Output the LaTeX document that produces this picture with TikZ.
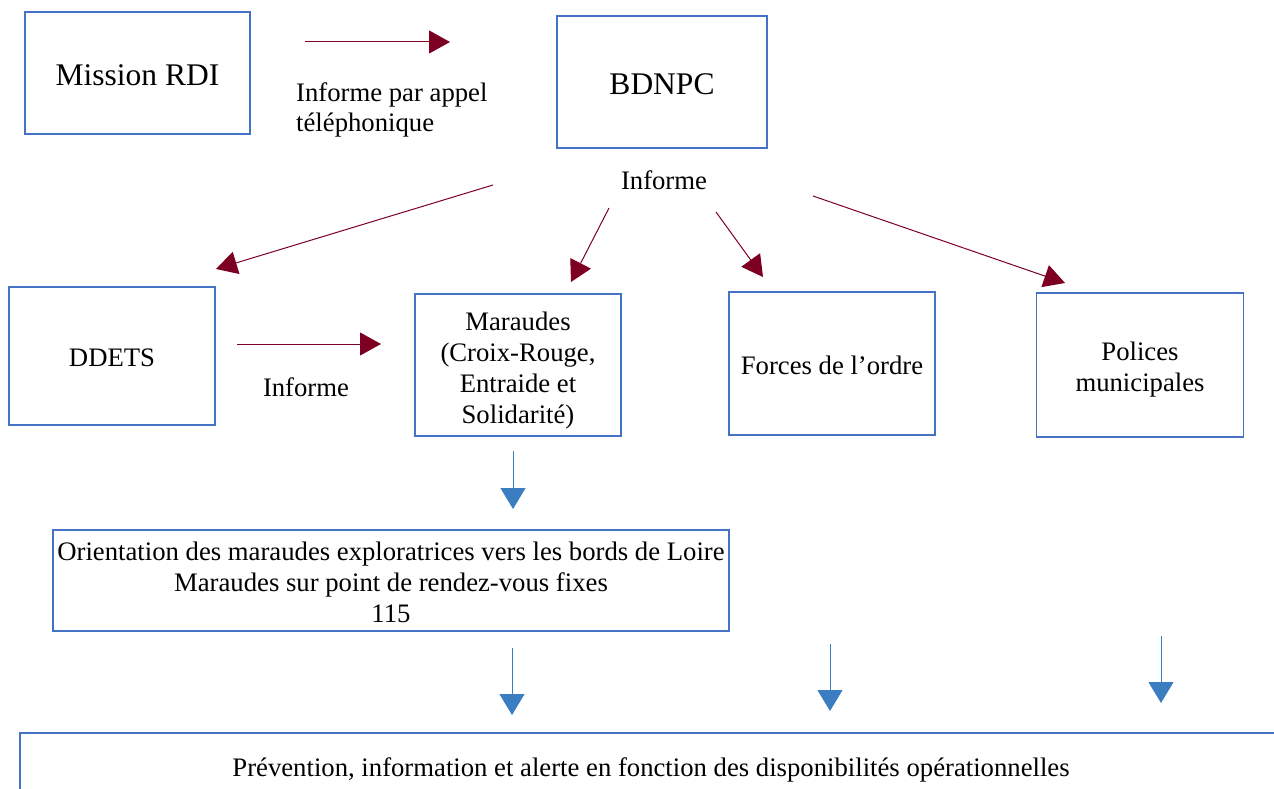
\documentclass[tikz,border=0pt]{standalone}
\usepackage{fontspec}
\setmainfont{Liberation Serif}
\usetikzlibrary{arrows.meta}
\definecolor{boxblue}{HTML}{4472C4}
\definecolor{darkred}{HTML}{7D0023}
\definecolor{arrblue}{HTML}{3A7DC0}
\tikzset{
  box/.style={draw=boxblue, line width=1.1pt, inner sep=0pt},
  txt/.style={inner sep=0pt, align=center, font=\fontsize{26.7}{31}\selectfont},
  bigtxt/.style={inner sep=0pt, align=center, font=\fontsize{31.5}{36}\selectfont},
  lbl/.style={inner sep=0pt, align=left, font=\fontsize{26.7}{30}\selectfont},
  redarr/.style={draw=darkred, line width=1pt, -{Triangle[length=21pt,width=23pt]}},
  bluearr/.style={draw=arrblue, line width=1pt, -{Triangle[length=21pt,width=25pt]}}
}
\begin{document}
\begin{tikzpicture}[x=1pt,y=-1pt]
\useasboundingbox (0,0) rectangle (1274,789);
% boxes
\node[box, minimum width=225pt, minimum height=122pt] (rdi) at (137.5,73) {};
\node[bigtxt] (rdit) at (137.5,75) {Mission RDI};
\node[box, minimum width=210pt, minimum height=132pt] (bdnpc) at (662,82) {};
\node[bigtxt] (bdnpct) at (662,84) {BDNPC};
\node[box, minimum width=206pt, minimum height=138pt] (ddets) at (112,356) {};
\node[txt] (ddetst) at (112,358) {DDETS};
\node[box, minimum width=206pt, minimum height=142pt] (mar) at (518,365) {};
\node[txt] (mart) at (518,371) {Maraudes\\(Croix-Rouge,\\Entraide et\\Solidarité)};
\node[box, minimum width=206pt, minimum height=143pt] (forces) at (832,363.5) {};
\node[txt] (forcest) at (832,365) {Forces de l’ordre};
\node[box, minimum width=207pt, minimum height=144pt] (pol) at (1140,365) {};
\node[txt] (polt) at (1140,370) {Polices\\municipales};
\node[box, minimum width=676pt, minimum height=101pt] (orient) at (391,580.5) {};
\node[txt] (orientt) at (391,582.5) {Orientation des maraudes exploratrices vers les bords de Loire\\Maraudes sur point de rendez-vous fixes\\115};
% bottom open box
\coordinate (bl) at (20,789);
\coordinate (tl) at (20,733);
\coordinate (tr) at (1274,733);
\draw[boxblue, line width=1.1pt] (bl) -- (tl) -- (tr);
\node[lbl] (prev) at (651,770) {Prévention, information et alerte en fonction des disponibilités opérationnelles};
% labels
\node[lbl, anchor=west] (tel) at (296,110) {Informe par appel\\téléphonique};
\node[lbl] (inf1) at (664,180) {Informe};
\node[lbl] (inf2) at (306,387) {Informe};
% red arrows
\coordinate (a1s) at (305,42);
\coordinate (a1e) at (450,42);
\draw[redarr] (a1s) -- (a1e);
\coordinate (a2s) at (493,185);
\coordinate (a2e) at (216,269);
\draw[redarr] (a2s) -- (a2e);
\coordinate (a3s) at (609,208);
\coordinate (a3e) at (571,282);
\draw[redarr] (a3s) -- (a3e);
\coordinate (a4s) at (716,212);
\coordinate (a4e) at (763,277);
\draw[redarr] (a4s) -- (a4e);
\coordinate (a5s) at (813,196);
\coordinate (a5e) at (1065,283);
\draw[redarr] (a5s) -- (a5e);
\coordinate (a6s) at (237,344);
\coordinate (a6e) at (381,344);
\draw[redarr] (a6s) -- (a6e);
% blue arrows
\coordinate (b1s) at (513,451);
\coordinate (b1e) at (513,509);
\draw[bluearr] (b1s) -- (b1e);
\coordinate (b2s) at (512,648);
\coordinate (b2e) at (512,715);
\draw[bluearr] (b2s) -- (b2e);
\coordinate (b3s) at (830,644);
\coordinate (b3e) at (830,711);
\draw[bluearr] (b3s) -- (b3e);
\coordinate (b4s) at (1161,636);
\coordinate (b4e) at (1161,703);
\draw[bluearr] (b4s) -- (b4e);
\end{tikzpicture}
\end{document}
